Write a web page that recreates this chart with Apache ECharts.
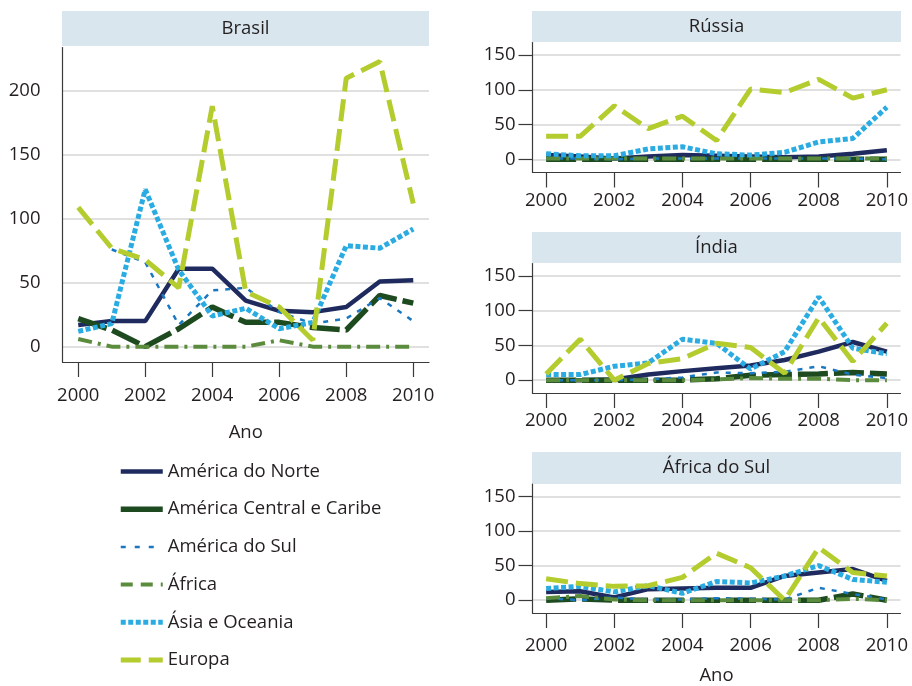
<!DOCTYPE html>
<html>
<head>
<meta charset="utf-8">
<title>Brasil, Rússia, Índia, África do Sul</title>
<script src="https://cdn.jsdelivr.net/npm/echarts@6/dist/echarts.min.js"></script>
<style>
  html, body { margin: 0; padding: 0; background: #fff; }
  #chart { width: 912px; height: 686px; }
</style>
</head>
<body>
<div id="chart"></div>
<script>
'use strict';

var anos = [2000, 2001, 2002, 2003, 2004, 2005, 2006, 2007, 2008, 2009, 2010];
var anosRotulo = [2000, 2002, 2004, 2006, 2008, 2010];
var ticksBrasil = [0, 50, 100, 150, 200];
var ticksOutros = [0, 50, 100, 150];
var paises = ['Brasil', 'Rússia', 'Índia', 'África do Sul'];
var regioes = ['América do Norte', 'América Central e Caribe', 'América do Sul', 'África', 'Ásia e Oceania', 'Europa'];

// Brasil
var brasilNorte   = [17, 20, 20, 61, 61, 36, 28, 27, 31, 51, 52];
var brasilCentral = [22, 13, 0, 14, 31, 19, 19, 15, 13, 40, 34];
var brasilSul     = [null, 76, 66, 17, 44, 46, 27, 18, 22, 38, 20];
var brasilAfrica  = [6, 0, 0, 0, 0, 0, 5, 0, 0, 0, 0];
var brasilAsia    = [12, 18, 123, 60, 24, 30, 14, 19, 79, 77, 92];
var brasilEuropa  = [109, 77, 68, 46, 188, 43, 31, 5, 210, 223, 112];

// Rússia
var russiaNorte   = [6, 4, 1, 4, 6, 5, 4, 3, 4, 8, 13];
var russiaCentral = [0, 0, 0, 0, 0, 0, 0, 0, 0, 0, 0];
var russiaSul     = [1, 1, 0, 1, 1, 1, 1, 1, 1, 1, 0];
var russiaAfrica  = [1, 1, 1, 1, 1, 1, 1, 1, 1, 1, 1];
var russiaAsia    = [8, 5, 5, 15, 18, 8, 6, 10, 25, 30, 75];
var russiaEuropa  = [33, 33, 77, 44, 62, 27, 101, 96, 115, 88, 100];

// Índia
var indiaNorte   = [0, 0, 1, 8, 13, 17, 21, 29, 41, 55, 41];
var indiaCentral = [0, 0, 0, 0, 0, 2, 7, 8, 9, 11, 9];
var indiaSul     = [0, 0, 0, 1, 4, 11, 10, 12, 20, 8, 3];
var indiaAfrica  = [0, 0, 0, 0, 0, 1, 3, 2, 2, 0, 0];
var indiaAsia    = [8, 8, 20, 25, 59, 53, 16, 41, 120, 46, 38];
var indiaEuropa  = [9, 59, 0, 24, 31, 53, 47, 10, 90, 27, 82];

// África do Sul
var africaSulNorte   = [12, 13, 4, 16, 17, 18, 18, 35, 40, 45, 28];
var africaSulCentral = [0, 2, 0, 0, 0, 0, 0, 0, 0, 9, 0];
var africaSulSul     = [3, 0, 4, 1, 1, 3, 2, 1, 18, 9, 1];
var africaSulAfrica  = [3, 6, 1, 0, 0, 0, 0, 0, 0, 2, 0];
var africaSulAsia    = [17, 20, 12, 21, 10, 27, 25, 35, 50, 30, 26];
var africaSulEuropa  = [31, 24, 20, 21, 33, 68, 47, 0, 76, 40, 35];

var dadosPorPais = [
    [brasilNorte, brasilCentral, brasilSul, brasilAfrica, brasilAsia, brasilEuropa],
    [russiaNorte, russiaCentral, russiaSul, russiaAfrica, russiaAsia, russiaEuropa],
    [indiaNorte, indiaCentral, indiaSul, indiaAfrica, indiaAsia, indiaEuropa],
    [africaSulNorte, africaSulCentral, africaSulSul, africaSulAfrica, africaSulAsia, africaSulEuropa]
];

// estilos de linha por região
var estilos = [
    { cor: '#1f2b5e', largura: 4.5, tipo: 'solid' },
    { cor: '#1d4a1f', largura: 5.5, tipo: [30, 6] },
    { cor: '#1a78c2', largura: 2.5, tipo: [5, 7] },
    { cor: '#5b8c3e', largura: 4, tipo: [14, 6, 3, 6] },
    { cor: '#2aabe2', largura: 5, tipo: [5, 2.5] },
    { cor: '#b4cc2e', largura: 5, tipo: [22, 8] }
];
var tiposLegenda = ['solid', 'solid', [5, 9], [12, 8], [5, 2.5], [20, 8]];

var corTexto = '#231f20';
var fonte = '"Open Sans", "Noto Sans", sans-serif';
var tamFonte = 18.5;

// posições dos painéis (px)
var paineis = [
    { left: 62.5, top: 47.5, width: 366.5, height: 314.5, ymin: -12, ymax: 234, xmin: 1999.53, xmax: 2010.47, ticks: ticksBrasil, ano: true, gapAno: 61, marcaY: false, margemY: 22, margemX: 24 },
    { left: 532.5, top: 42.5, width: 368, height: 130, ymin: -19, ymax: 168, xmin: 1999.6, xmax: 2010.4, ticks: ticksOutros, ano: false, marcaY: true, margemY: 17, margemX: 19 },
    { left: 532.5, top: 263.5, width: 368, height: 129.5, ymin: -18.5, ymax: 168, xmin: 1999.6, xmax: 2010.4, ticks: ticksOutros, ano: false, marcaY: true, margemY: 17, margemX: 18 },
    { left: 532.5, top: 484, width: 368, height: 130, ymin: -18.5, ymax: 168, xmin: 1999.6, xmax: 2010.4, ticks: ticksOutros, ano: true, gapAno: 53, marcaY: true, margemY: 17, margemX: 23 }
];
var cabecalhos = [
    { x: 62, y: 11, w: 367, h: 35 },
    { x: 532, y: 11, w: 369, h: 31 },
    { x: 532, y: 232, w: 369, h: 31 },
    { x: 532, y: 452, w: 369, h: 32 }
];

function semSeparador(v) { return String(v); }

var grids = [], xAxes = [], yAxes = [], series = [], graficos = [];

paineis.forEach(function (p, i) {
    grids.push({ left: p.left, top: p.top, width: p.width, height: p.height });
    xAxes.push({
        type: 'value', gridIndex: i, min: p.xmin, max: p.xmax,
        name: p.ano ? 'Ano' : '', nameLocation: 'middle', nameGap: p.gapAno || 0,
        nameTextStyle: { color: corTexto, fontSize: tamFonte, fontFamily: fonte },
        axisLine: { onZero: false, lineStyle: { color: '#3a3a3a', width: 1.2 } },
        axisTick: { customValues: anosRotulo, length: 15, lineStyle: { color: '#3a3a3a', width: 1.2 } },
        axisLabel: { customValues: anosRotulo, formatter: semSeparador, margin: p.margemX, color: corTexto, fontSize: tamFonte, fontFamily: fonte },
        splitLine: { show: false }
    });
    yAxes.push({
        type: 'value', gridIndex: i, min: p.ymin, max: p.ymax,
        axisLine: { show: true, lineStyle: { color: '#3a3a3a', width: 1.2 } },
        axisTick: { show: p.marcaY, customValues: p.ticks, length: 14, lineStyle: { color: '#3a3a3a', width: 1.2 } },
        axisLabel: { customValues: p.ticks, formatter: semSeparador, margin: p.margemY, color: corTexto, fontSize: tamFonte, fontFamily: fonte },
        splitLine: { show: true, lineStyle: { color: '#d6d6d6', width: 1.5 } }
    });
    dadosPorPais[i].forEach(function (valores, r) {
        var e = estilos[r];
        series.push({
            name: regioes[r], type: 'line', xAxisIndex: i, yAxisIndex: i,
            symbol: 'none', silent: true,
            data: anos.map(function (a, k) { return [a, valores[k]]; }),
            lineStyle: { color: e.cor, width: e.largura, type: e.tipo, cap: 'butt' },
            itemStyle: { color: e.cor }
        });
    });
    var c = cabecalhos[i];
    graficos.push({ type: 'rect', shape: { x: c.x, y: c.y, width: c.w, height: c.h }, style: { fill: '#d9e6ee' }, silent: true });
    graficos.push({ type: 'text', x: c.x + c.w / 2, y: c.y + c.h / 2, style: { text: paises[i], fill: corTexto, fontSize: tamFonte, fontFamily: fonte, align: 'center', verticalAlign: 'middle' }, silent: true });
});

var chart = echarts.init(document.getElementById('chart'));
chart.setOption({
    animation: false,
    backgroundColor: '#fff',
    grid: grids,
    xAxis: xAxes,
    yAxis: yAxes,
    legend: {
        orient: 'vertical', left: 113, top: 457,
        itemWidth: 42, itemHeight: 14, itemGap: 18.7, itemTextGap: 11,
        selectedMode: false,
        textStyle: { color: corTexto, fontSize: tamFonte, fontFamily: fonte },
        data: regioes.map(function (nome, r) {
            return {
                name: nome,
                lineStyle: { color: estilos[r].cor, width: estilos[r].largura, type: tiposLegenda[r] },
                itemStyle: { color: 'rgba(0,0,0,0)', borderWidth: 0 }
            };
        })
    },
    graphic: graficos,
    series: series
});
</script>
</body>
</html>
